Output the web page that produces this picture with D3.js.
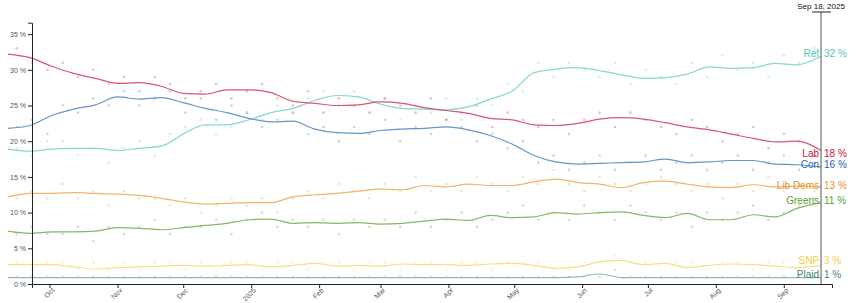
<!DOCTYPE html>
<html>
<head>
<meta charset="utf-8">
<script src="https://cdn.jsdelivr.net/npm/d3@7"></script>
<style>
  body { margin: 0; background: #fff; }
  svg { display: block; font-family: "Liberation Sans", Arial, sans-serif; }
  .axis text { font-size: 7px; fill: #555; }
  .axis path, .axis line { stroke: #222; }
</style>
</head>
<body>
<svg id="chart" width="858" height="303"></svg>
<script>
// trend points (smoothed poll average), one every 10 days
var trendDates = ["2024-09-12","2024-09-22","2024-10-02","2024-10-12","2024-10-22","2024-11-01","2024-11-11","2024-11-21",
  "2024-12-01","2024-12-11","2024-12-21","2024-12-31","2025-01-10","2025-01-20","2025-01-30","2025-02-09","2025-02-19",
  "2025-03-01","2025-03-11","2025-03-21","2025-03-31","2025-04-10","2025-04-20","2025-04-30","2025-05-10","2025-05-20",
  "2025-05-30","2025-06-09","2025-06-19","2025-06-29","2025-07-09","2025-07-19","2025-07-29","2025-08-08","2025-08-18",
  "2025-08-28","2025-09-07","2025-09-18"];

var refTrend = [18.9,18.6,18.9,19.0,19.0,18.7,19.0,19.3,21.0,22.3,22.3,23.0,24.0,24.6,25.7,26.4,26.2,25.2,24.6,24.5,24.4,24.8,
  25.9,27.0,29.6,30.1,30.3,29.9,29.3,28.8,28.9,29.4,30.4,30.2,30.3,30.9,30.7,31.9];
var labTrend = [32.2,31.7,30.5,29.5,28.8,28.1,28.2,27.7,26.7,26.6,27.2,27.2,26.8,25.6,25.3,25.0,25.1,25.5,25.3,24.7,24.3,23.9,
  23.2,23.0,22.3,22.2,22.5,23.1,23.3,23.1,22.6,22.0,21.6,21.0,20.4,19.9,20.0,18.7];
var conTrend = [21.8,22.2,23.6,24.5,25.1,26.2,25.9,26.1,25.4,24.6,24.0,23.2,22.7,22.8,21.7,21.2,21.1,21.5,21.7,21.8,22.0,21.6,
  20.8,19.6,18.0,17.1,16.8,16.9,17.0,17.1,17.5,17.0,17.1,17.3,17.3,16.8,16.7,16.4];
var ldTrend = [12.2,12.7,12.7,12.8,12.7,12.6,12.4,12.0,11.5,11.2,11.3,11.4,11.4,12.2,12.5,12.7,13.0,13.3,13.2,13.8,13.6,14.0,
  13.8,13.8,14.3,14.7,14.2,14.0,13.5,14.2,14.4,14.0,13.6,13.5,13.9,13.6,13.7,13.6];
var greenTrend = [7.4,7.1,7.3,7.3,7.4,7.9,7.8,7.6,7.9,8.2,8.5,9.0,9.1,8.5,8.6,8.5,8.6,8.4,8.5,8.8,9.1,8.9,
  9.6,9.3,9.4,10.0,9.8,10.0,10.1,9.6,9.3,9.9,9.0,9.0,9.7,9.4,10.6,11.4];
var snpTrend = [2.7,2.7,2.7,2.4,2.1,2.3,2.4,2.5,2.6,2.5,2.6,2.7,2.4,2.6,2.9,2.5,2.6,2.5,2.8,2.7,2.7,2.6,
  2.8,2.9,2.6,2.2,2.4,3.1,3.3,2.7,2.9,2.3,2.6,2.8,2.7,2.5,2.3,2.6];
var plaidTrend = [0.9,0.9,0.9,0.9,0.9,0.9,0.9,0.9,0.9,0.9,0.9,0.9,0.9,0.9,0.9,0.9,0.9,0.9,0.9,0.9,0.9,0.9,
  0.9,0.9,0.9,0.9,1.0,1.4,0.9,0.9,0.9,0.9,0.9,0.9,0.9,0.9,0.9,0.9];

// latest values shown at the right edge
var latestValues = [32, 18, 16, 13, 11, 3, 1];

// individual polls (faint dots)
var pollDates = ["2024-09-16","2024-09-23","2024-09-30","2024-10-07","2024-10-14","2024-10-21","2024-10-28","2024-11-04",
  "2024-11-11","2024-11-18","2024-11-25","2024-12-02","2024-12-09","2024-12-16","2024-12-23","2024-12-30","2025-01-06",
  "2025-01-13","2025-01-20","2025-01-27","2025-02-03","2025-02-10","2025-02-17","2025-02-24","2025-03-03","2025-03-10",
  "2025-03-17","2025-03-24","2025-03-31","2025-04-07","2025-04-14","2025-04-21","2025-04-28","2025-05-05","2025-05-12",
  "2025-05-19","2025-05-26","2025-06-02","2025-06-09","2025-06-16","2025-06-23","2025-06-30","2025-07-07","2025-07-14",
  "2025-07-21","2025-07-28","2025-08-04","2025-08-11","2025-08-18","2025-08-25","2025-09-01","2025-09-08","2025-09-15"];
var refPolls = [19,18,20,20,18,19,17,19,20,18,21,22,23,21,22,24,23,25,24,26,27,25,27,24,26,23,25,24,26,23,
  26,25,28,27,31,29,31,30,29,31,28,30,29,28,31,29,32,30,31,29,32,31,33];
var labPolls = [33,31,30,31,29,30,28,29,27,29,28,26,27,28,26,27,28,26,25,27,24,26,25,24,26,25,24,26,23,24,
  25,22,24,23,22,23,21,23,24,22,24,23,22,21,23,22,20,21,22,19,21,20,18];
var conPolls = [22,23,21,25,24,26,25,27,25,26,27,24,26,23,25,24,22,23,24,21,22,20,22,21,23,20,22,21,23,22,
  20,21,19,20,17,18,16,17,18,16,17,18,16,17,18,16,17,18,16,17,18,16,17];
var ldPolls = [12,13,12,14,12,13,11,13,12,12,11,12,10,11,12,11,12,10,12,13,12,14,13,12,14,13,15,13,14,13,
  15,14,13,15,14,16,14,13,15,14,13,14,15,14,13,14,12,14,13,15,13,14,13];
var greenPolls = [7,8,7,7,8,6,8,7,8,9,7,8,8,9,7,9,10,8,9,8,9,7,9,8,9,8,10,8,9,10,
  8,9,10,11,9,10,9,11,10,9,11,10,9,10,8,10,9,10,11,9,10,11,12];
var snpPolls = [3,2,3,3,2,3,2,3,2,3,3,2,3,2,3,3,2,3,3,2,3,3,2,3,3,2,3,3,2,3,
  3,2,3,3,3,2,2,3,3,4,3,3,2,3,3,2,3,3,2,3,3,2,3];
var plaidPolls = [1,1,1,1,1,1,1,1,1,1,1,1,1,1,1,1,1,1,1,1,1,1,1,1,1,1,1,1,1,1,
  1,1,1,1,1,1,1,1,1,2,1,1,1,1,1,1,1,1,1,1,1,1,1];

var parties = [
  { name: "Ref",      trend: refTrend,   polls: refPolls,   line: "#84d8cf", label: "#4cc7bc", ly: 53 },
  { name: "Lab",      trend: labTrend,   polls: labPolls,   line: "#d9566d", label: "#c8102e", ly: 153 },
  { name: "Con",      trend: conTrend,   polls: conPolls,   line: "#6496cc", label: "#2266b3", ly: 164.5 },
  { name: "Lib Dems", trend: ldTrend,    polls: ldPolls,    line: "#f2b36e", label: "#e8902c", ly: 185 },
  { name: "Greens",   trend: greenTrend, polls: greenPolls, line: "#84b865", label: "#5a9e32", ly: 200 },
  { name: "SNP",      trend: snpTrend,   polls: snpPolls,   line: "#f5df86", label: "#efcf4c", ly: 260 },
  { name: "Plaid",    trend: plaidTrend, polls: plaidPolls, line: "#93b3c0", label: "#3a8a62", ly: 274 }
];

var monthLabels = ["Oct","Nov","Dec","2025","Feb","Mar","Apr","May","Jun","Jul","Aug","Sep"];
var endDate = "2025-09-18", endLabel = "Sep 18, 2025";

var parse = d3.timeParse("%Y-%m-%d");
var svg = d3.select("#chart");

var x = d3.scaleTime()
  .domain([parse("2024-09-23"), parse("2025-09-23")])
  .range([32, 832]);
var y = d3.scaleLinear().domain([0, 36.6]).range([284, 22.7]);

// poll dots
parties.forEach(function(p) {
  svg.append("g").selectAll("circle")
    .data(pollDates.map(function(d, i) { return { date: parse(d), v: p.polls[i] }; }))
    .enter().append("circle")
    .attr("cx", function(d) { return x(d.date); })
    .attr("cy", function(d) { return y(d.v); })
    .attr("r", 1.3)
    .attr("fill", p.line)
    .attr("opacity", 0.4);
});

// trend lines
var line = d3.line()
  .x(function(d) { return x(d.date); })
  .y(function(d) { return y(d.v); })
  .curve(d3.curveMonotoneX);

parties.forEach(function(p) {
  svg.append("path")
    .datum(trendDates.map(function(d, i) { return { date: parse(d), v: p.trend[i] }; }))
    .attr("d", line)
    .attr("fill", "none")
    .attr("stroke", p.line)
    .attr("stroke-width", 1.2);
});

// axes
var xAxis = d3.axisBottom(x)
  .ticks(d3.timeMonth.every(1))
  .tickSize(4)
  .tickFormat(function(d, i) { return monthLabels[i]; });
svg.append("g").attr("class", "axis")
  .attr("transform", "translate(0,284)")
  .call(xAxis)
  .selectAll("text")
    .style("text-anchor", "end")
    .attr("y", 6)
    .attr("dx", "-0.2em")
    .attr("dy", "0.3em")
    .attr("transform", "rotate(-45)");

var yAxis = d3.axisLeft(y)
  .tickValues([0,5,10,15,20,25,30,35])
  .tickSize(4)
  .tickPadding(2)
  .tickFormat(function(d) { return d + " %"; });
svg.append("g").attr("class", "axis")
  .attr("transform", "translate(32,0)")
  .call(yAxis);

// latest date marker
var ex = x(parse(endDate));
svg.append("line")
  .attr("x1", ex).attr("x2", ex).attr("y1", 12).attr("y2", 284)
  .attr("stroke", "#555").attr("stroke-width", 1);
svg.append("line")
  .attr("x1", ex - 9).attr("x2", ex + 10).attr("y1", 12).attr("y2", 12)
  .attr("stroke", "#222").attr("stroke-width", 1);
svg.append("text")
  .attr("x", ex).attr("y", 9)
  .attr("text-anchor", "middle")
  .attr("font-size", 8)
  .attr("fill", "#111")
  .text(endLabel);

// end labels
parties.forEach(function(p, i) {
  svg.append("text")
    .attr("x", ex - 2).attr("y", p.ly + 3.5)
    .attr("text-anchor", "end")
    .attr("font-size", 10)
    .attr("fill", p.label)
    .text(p.name);
  svg.append("text")
    .attr("x", ex + 3).attr("y", p.ly + 3.5)
    .attr("font-size", 10)
    .attr("fill", p.label)
    .text(latestValues[i] + " %");
});
</script>
</body>
</html>
